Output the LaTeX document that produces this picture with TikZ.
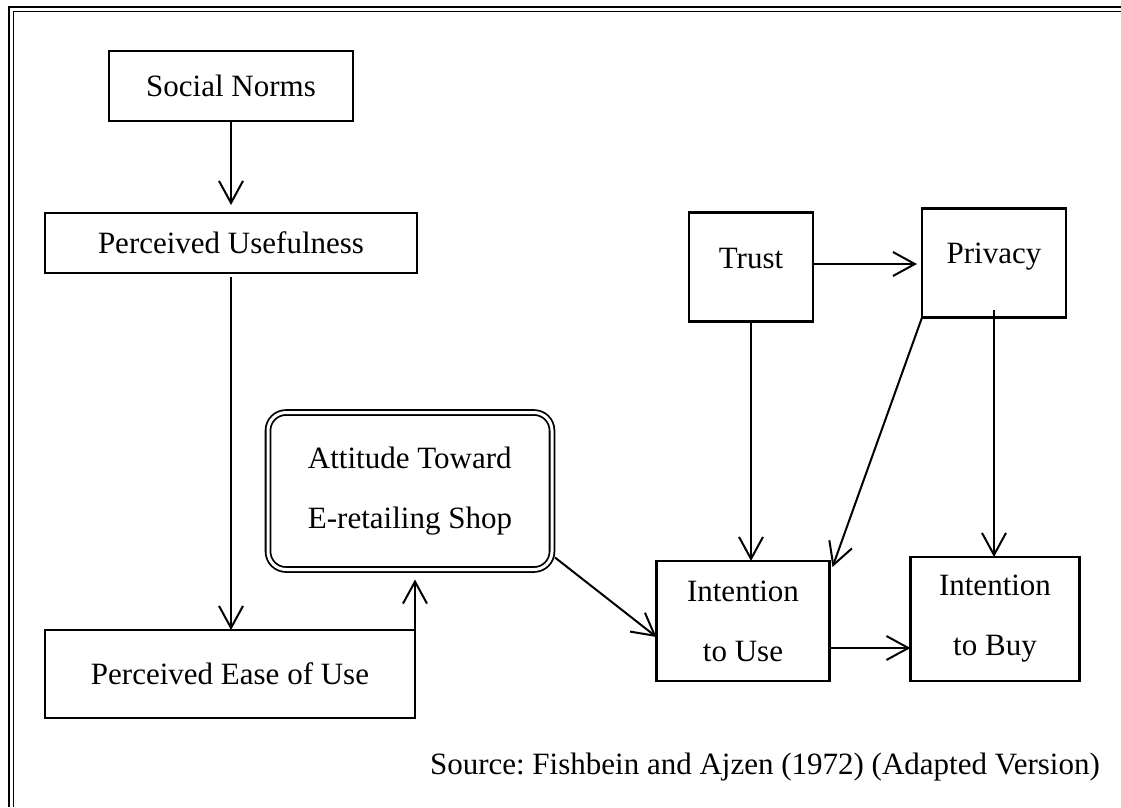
\documentclass[tikz,border=0pt]{standalone}
\usepackage{fontspec}
\setmainfont{Liberation Serif}
\frenchspacing
\usetikzlibrary{arrows.meta}

\begin{document}
\begin{tikzpicture}
    [x=1pt,y=-1pt,
     box/.style={draw,rectangle,line width=2.4pt,outer sep=0pt,inner sep=0pt,align=center,font=\fontsize{31}{60}\selectfont},
     conn/.style={line width=2pt,-{Straight Barb[length=22pt,width=24pt]}}]
    \useasboundingbox (0,0) rectangle (1121,807);
    % page frame
    \draw[line width=1.8pt,double,double distance=3pt] (11,807) -- (11,9) -- (1121,9);
    \node[box,minimum width=244pt,minimum height=70pt] (social) at (231,86) {Social Norms};
    \node[box,minimum width=372pt,minimum height=60pt] (useful) at (231,243) {Perceived Usefulness};
    \node[box,minimum width=370pt,minimum height=88pt] (ease) at (230,674) {Perceived Ease of Use};
    \node[box,align=left,rounded corners=18pt,line width=1.8pt,double,double distance=3pt,
          minimum width=284pt,minimum height=157pt] (att) at (410,491) {Attitude Toward\\E-retailing Shop};
    \node[box,text height=21pt,text depth=18pt,minimum width=124pt,minimum height=109pt] (trust) at (751,267) {Trust};
    \node[box,text height=21pt,text depth=20pt,minimum width=144pt,minimum height=109pt] (privacy) at (994,263) {Privacy};
    \node[box,minimum width=173pt,minimum height=120pt] (use) at (743,621) {Intention\\to Use};
    \node[box,minimum width=169pt,minimum height=124pt] (buy) at (995,619) {Intention\\to Buy};
    \node[font=\fontsize{31}{36}\selectfont,anchor=base east,inner sep=0pt] (source) at (1100,774)
        {Source: Fishbein and Ajzen (1972) (Adapted Version)};
    % links
    \draw[conn,shorten >=8pt] (social.south) -- (useful.north);
    \draw[conn,shorten <=4pt] (useful.south) -- (useful.south |- ease.north);
    \draw[conn,shorten >=10pt] (ease.north east) -- (ease.north east |- att.south);
    \draw[conn] ([xshift=3pt,yshift=12pt]att.south east) -- ([yshift=-16pt]use.west);
    \draw[conn,shorten >=5pt] (trust.east |- 0,264) -- (privacy.west |- 0,264);
    \draw[conn] (trust.south) -- (trust.south |- use.north);
    \draw[conn] (privacy.south west) -- ([xshift=3pt,yshift=-6pt]use.north east);
    \draw[conn,shorten <=-8pt] (privacy.south) -- (privacy.south |- buy.north);
    \draw[conn] (use.east |- 0,648) -- (buy.west |- 0,648);
\end{tikzpicture}
\end{document}
